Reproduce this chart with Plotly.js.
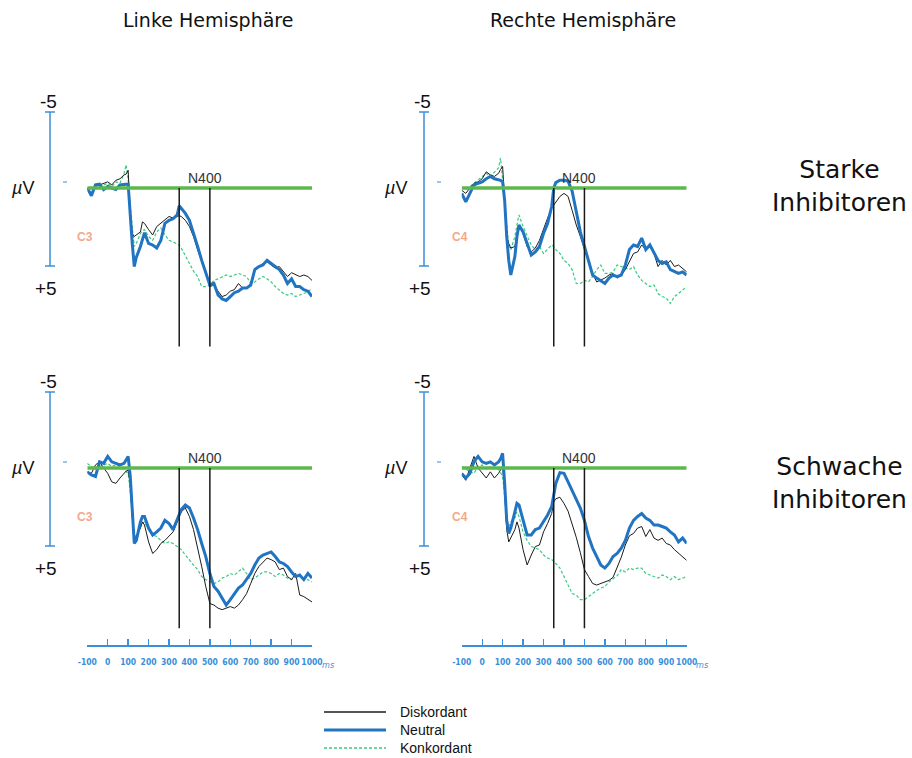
<!DOCTYPE html>
<html><head><meta charset="utf-8">
<script src="https://cdn.plot.ly/plotly-3.0.1.min.js"></script>
<style>body{margin:0;background:#fff}#chart{width:912px;height:758px}</style>
</head><body><div id="chart"></div>
<script>
// time points (ms)
const T = [-100,-80,-60,-40,-20,0,20,40,60,80,90,100,110,120,130,140,160,170,180,200,220,240,260,280,300,320,340,350,360,380,400,420,440,460,480,500,520,540,560,580,600,620,640,660,680,700,720,740,760,780,800,820,840,860,880,900,920,940,960,980,1000];

// Starke Inhibitoren, C3 (links)
const tlDis = [0,0.45,-0.1,-0.2,-0.3,-0.4,-0.2,-0.5,-0.6,-0.85,-0.9,-1.15, 1.5,2.95,3.15,3.05, 2.85,2.2,2.3, 2.7,3.05,2.5,2.3,2.1,1.85,1.95,1.85, 1.8, 1.85,2.1,2.5,3.15,4.0,4.7,5.5,6.4,6.3,6.7,7.05,6.95,6.7,6.6,6.2,6.5,6.5,6.2,5.3,5.1,4.9,4.8,5.0,5.2,5.1,5.4,5.75,5.5,5.65,5.75,5.65,5.75,6.0];
const tlNeu = [0,0.5,-0.2,-0.25,0.1,-0.1,0,0.1,-0.2,-0.25,-0.25,-0.25, 2.0,3.6,5.1,4.5, 3.8,3.3,2.9, 3.6,3.7,3.9,3.4,2.3,2.1,2.0,1.75, 1.15, 1.3,1.65,2.1,2.9,3.8,4.7,5.5,6.3,6.2,6.95,7.2,7.3,7.05,6.8,6.7,6.5,6.5,6.3,5.3,5.1,5.0,4.7,4.9,5.1,5.3,5.65,6.2,5.9,6.4,6.4,6.6,6.7,7.05];
const tlKon = [0,0.25,0,-0.1,-0.2,-0.3,-0.1,-0.4,-0.3,-0.95,-1.5,-0.5, 1.2,2.7,3.8,3.6, 2.95,2.8,2.7, 3.15,3.4,2.85,2.6,3.05,3.4,3.5,3.6, 3.7, 3.9,4.45,4.9,5.4,5.75,6.4,6.4,6.3,6.0,5.9,5.75,5.65,5.75,5.65,5.55,5.65,5.75,6.2,6.1,5.9,5.75,5.9,6.1,6.4,6.6,6.85,6.95,6.85,7.05,6.95,6.85,6.75,6.5];

// Starke Inhibitoren, C4 (rechts)
const trDis = [0.15,0.35,0,-0.3,-0.4,-0.6,-1.05,-0.85,-0.75,-0.95,-1.2,-1.4, 0.8,3.15,3.6,3.9, 3.8,2.95,2.4, 2.95,3.8,4.15,3.9,3.4,2.6,1.95,1.3, 1.1, 0.9,0.55,0.35,0.55,1.45,2.4,3.15,4.0,4.7,5.55,6.1,6.0,5.85,5.65,5.55,5.85,5.65,5.3,4.8,4.25,4.15,3.7,4.0,3.8,4.25,5.1,4.7,5.0,4.7,5.1,5.0,5.2,5.45];
const trNeu = [0.35,0.9,0.35,-0.2,-0.3,-0.4,-0.6,-0.75,-0.6,-0.55,-0.5,-0.4, 0.8,3.15,4.7,5.65, 4.45,3.15,2.4, 2.85,3.6,4.35,4.15,3.8,2.95,2.3,1.2, 0.0, -0.35,-0.5,-0.5,-0.45,0.2,1.65,2.85,3.8,4.7,5.65,5.85,6.0,6.2,5.85,5.65,5.75,5.65,5.0,4.0,3.7,3.8,3.25,4.0,3.7,4.25,4.7,4.9,4.8,5.3,5.45,5.55,5.45,5.65];
const trKon = [0,0.1,-0.1,-0.3,-0.5,-0.75,-0.95,-0.75,-1.05,-1.3,-1.95,-0.5, 1.0,2.7,3.8,4.0, 3.15,2.4,1.75, 2.5,3.15,3.7,4.0,3.8,4.25,4.0,3.7, 3.8, 4.0,4.25,4.7,4.9,5.3,6.2,6.2,6.0,6.1,5.75,5.3,5.0,5.55,5.55,5.45,5.0,5.1,5.2,5.3,5.1,5.65,6.0,6.2,6.4,6.3,6.85,7.05,7.15,7.5,7.05,6.85,6.6,6.4];

// Schwache Inhibitoren, C3 (links)
const blDis = [0.25,0.35,-0.2,-0.4,0,0.35,0.9,1.0,0.65,0.35,0.2,0.15, 1.0,3.15,4.7,4.45, 3.9,3.5,3.7, 4.8,5.55,5.3,4.9,4.7,4.45,4.15,3.5, 3.1, 2.85,2.6,3.15,4.0,5.1,6.4,7.7,8.8,8.9,9.1,9.2,9.1,9.0,9.1,8.9,8.55,8.15,7.5,6.85,6.4,6.1,5.85,5.95,6.1,6.6,6.5,7.05,7.25,6.85,8.25,8.35,8.55,8.7];
const blNeu = [0.25,0.45,0.55,-0.4,-0.3,-0.75,-0.4,-0.3,-0.2,-0.3,-0.5,-0.75, 0.5,2.95,4.9,4.7, 3.5,3.15,3.15, 3.9,4.35,4.15,3.9,3.4,3.6,4.0,3.4, 3.0, 2.7,2.4,2.6,3.25,4.0,4.9,5.75,6.85,7.7,8.0,8.45,8.9,8.55,8.15,7.8,7.6,7.25,6.85,6.3,5.85,5.65,5.55,5.45,5.75,6.1,6.2,6.4,6.75,7.05,6.95,7.25,6.85,7.15];
const blKon = [-0.3,-0.1,0.1,-0.1,-0.2,-0.3,-0.1,-0.2,-0.1,0.1,0.2,0.35, 1.5,3.15,4.55,4.35, 3.8,3.6,3.5, 4.0,4.35,4.45,4.7,4.9,4.8,4.9,5.1, 5.2, 5.3,5.65,6.0,6.3,6.6,7.05,7.25,7.4,7.5,7.4,7.15,7.05,6.85,6.95,6.75,6.5,6.85,7.25,7.15,6.95,6.75,6.75,6.85,7.05,6.85,6.95,7.15,7.25,6.95,7.05,7.25,7.25,7.4];

// Schwache Inhibitoren, C4 (rechts)
const brDis = [0.45,0.8,0,-0.75,0,0.35,0.65,0.25,0.65,0.35,0.1,-0.1, 1.5,4.0,4.8,4.55, 4.0,3.5,3.9, 5.3,6.3,5.65,5.1,5.0,4.15,3.6,2.95, 2.2, 2.0,1.9,2.3,2.8,3.6,4.5,5.5,6.6,7.05,7.5,7.6,7.5,7.4,7.3,7.1,6.5,5.8,5.0,4.4,4.25,3.9,3.8,4.45,4.0,4.55,4.7,4.55,4.9,5.0,5.3,5.55,5.75,6.0];
const brNeu = [0.35,0.65,0.35,-0.4,-0.75,-0.4,-0.3,-0.4,-0.2,-0.4,-0.6,-0.95, 1.0,3.4,4.25,3.9, 2.85,2.3,2.4, 3.4,4.35,4.35,4.0,3.9,3.5,3.05,2.5, 1.65, 1.0,0.3,0.35,0.9,1.45,2.1,2.6,3.4,4.45,5.2,5.75,6.3,6.5,6.2,5.75,5.55,5.2,4.7,3.9,3.4,3.15,2.95,3.25,3.4,3.7,3.7,3.8,3.9,4.15,4.35,4.8,4.55,4.9];
const brKon = [-0.1,0.1,0.25,0.35,-0.1,-0.2,0.1,-0.1,0,0.1,0.3,0.55, 1.8,3.25,3.8,3.5, 3.25,2.85,3.15, 4.15,4.7,5.1,5.2,5.3,5.65,5.85,5.95, 6.05, 6.2,6.5,7.05,7.7,8.15,8.25,8.55,8.55,8.35,8.1,7.95,7.8,7.7,7.4,7.2,7.0,6.6,6.75,6.5,6.6,6.5,6.5,6.85,6.95,7.05,7.15,6.95,7.05,7.25,7.05,7.25,7.15,7.05];

const xTicks = [-100,0,100,200,300,400,500,600,700,800,900,1000];
const seriesNames = ['Diskordant','Neutral','Konkordant'];
const windowMs = [350, 500];
const colTitles = ['Linke Hemisphäre','Rechte Hemisphäre'];
const rowTitles = ['Starke<br>Inhibitoren','Schwache<br>Inhibitoren'];
const electrodes = ['C3','C4'];

const W = 912, H = 758;
const px = x => x / W, py = y => 1 - y / H;

const BLUE = '#2174c2', BLACK = '#1b1b1b', KON = '#3cc983', BASE = '#5cb84c', AXIS = '#3a8fd8';

const panels = [
  {xa:'x',  ya:'y',  d:tlDis, n:tlNeu, k:tlKon, col:0, row:0},
  {xa:'x2', ya:'y2', d:trDis, n:trNeu, k:trKon, col:1, row:0},
  {xa:'x',  ya:'y3', d:blDis, n:blNeu, k:blKon, col:0, row:1},
  {xa:'x2', ya:'y4', d:brDis, n:brNeu, k:brKon, col:1, row:1}
];

const traces = [];
panels.forEach(p => {
  traces.push({x:T, y:p.k, xaxis:p.xa, yaxis:p.ya, type:'scatter', mode:'lines', name:seriesNames[2], showlegend:false,
    line:{color:KON, width:1.2, dash:'3px,2px'}});
  traces.push({x:T, y:p.d, xaxis:p.xa, yaxis:p.ya, type:'scatter', mode:'lines', name:seriesNames[0], showlegend:false,
    line:{color:BLACK, width:1}});
  traces.push({x:T, y:p.n, xaxis:p.xa, yaxis:p.ya, type:'scatter', mode:'lines', name:seriesNames[1], showlegend:false,
    line:{color:BLUE, width:3}});
});

const colBarX = [50, 424];
const colDashX = [65, 439];
const colLabelX = [48, 422];
const colMuX = [22, 395];
const colElX = [85, 460];
const rowZero = [188, 468];
const lineEnd = [10.3, 10.4];

const shapes = [];
const annotations = [];

panels.forEach(p => {
  const z = rowZero[p.row], bx = colBarX[p.col];
  shapes.push({type:'line', xref:p.xa, yref:p.ya, x0:-100, x1:1000, y0:0, y1:0, layer:'above',
    line:{color:BASE, width:3.5}});
  windowMs.forEach(t => shapes.push({type:'line', xref:p.xa, yref:p.ya, x0:t, x1:t, y0:0, y1:lineEnd[p.row], layer:'above',
    line:{color:'#1a1a1a', width:1.5}}));
  shapes.push({type:'line', xref:'paper', yref:'paper', x0:px(bx), x1:px(bx), y0:py(z-76), y1:py(z+78), line:{color:AXIS, width:1.5}});
  shapes.push({type:'line', xref:'paper', yref:'paper', x0:px(bx-5), x1:px(bx+5), y0:py(z-76), y1:py(z-76), line:{color:AXIS, width:1.5}});
  shapes.push({type:'line', xref:'paper', yref:'paper', x0:px(bx-5), x1:px(bx+5), y0:py(z+78), y1:py(z+78), line:{color:AXIS, width:1.5}});
  shapes.push({type:'line', xref:'paper', yref:'paper', x0:px(colDashX[p.col]-2), x1:px(colDashX[p.col]+2), y0:py(z-6), y1:py(z-6), line:{color:AXIS, width:1}});
  annotations.push({xref:'paper', yref:'paper', x:px(colLabelX[p.col]), y:py(z-87), text:'-5', showarrow:false,
    xanchor:'center', yanchor:'middle', font:{family:'Liberation Sans, Arial, sans-serif', size:19, color:'#111'}});
  annotations.push({xref:'paper', yref:'paper', x:px(colLabelX[p.col]-2), y:py(z+100), text:'+5', showarrow:false,
    xanchor:'center', yanchor:'middle', font:{family:'Liberation Sans, Arial, sans-serif', size:19, color:'#111'}});
  annotations.push({xref:'paper', yref:'paper', x:px(colMuX[p.col]), y:py(z), text:'<i>µ</i>V', showarrow:false,
    xanchor:'center', yanchor:'middle', font:{family:'Liberation Sans, Arial, sans-serif', size:18, color:'#111'}});
  annotations.push({xref:'paper', yref:'paper', x:px(colElX[p.col]), y:py(z+49), text:'<b>'+electrodes[p.col]+'</b>', showarrow:false,
    xanchor:'center', yanchor:'middle', font:{family:'Liberation Sans, Arial, sans-serif', size:12, color:'#f3a88c'}});
  annotations.push({xref:p.xa, yref:p.ya, x:475, y:0, text:'N400', showarrow:false,
    xanchor:'center', yanchor:'bottom', yshift:0, font:{family:'Liberation Sans, Arial, sans-serif', size:14, color:'#333'}});
});

[208, 583].forEach((x, i) => annotations.push({xref:'paper', yref:'paper', x:px(x), y:py(20), text:colTitles[i], showarrow:false,
  xanchor:'center', yanchor:'middle', font:{family:'DejaVu Sans, sans-serif', size:19, color:'#111'}}));
[186, 483].forEach((y, i) => annotations.push({xref:'paper', yref:'paper', x:px(839), y:py(y), text:rowTitles[i], showarrow:false,
  xanchor:'center', yanchor:'middle', align:'center', font:{family:'DejaVu Sans, sans-serif', size:25, color:'#111'}}));
[328, 702].forEach(x => annotations.push({xref:'paper', yref:'paper', x:px(x), y:py(665), text:'<i>ms</i>', showarrow:false,
  xanchor:'center', yanchor:'middle', font:{family:'DejaVu Sans Condensed, sans-serif', size:9, color:AXIS}}));

const legColors = [BLACK, BLUE, KON], legW = [1.5, 3, 1.5], legDash = ['solid','solid','3px,2px'];
[712, 730, 748].forEach((y, i) => {
  shapes.push({type:'line', xref:'paper', yref:'paper', x0:px(324), x1:px(386), y0:py(y), y1:py(y),
    line:{color:legColors[i], width:legW[i], dash:legDash[i]}});
  annotations.push({xref:'paper', yref:'paper', x:px(398), y:py(y), text:seriesNames[i], showarrow:false,
    xanchor:'left', yanchor:'middle', font:{family:'Liberation Sans, Arial, sans-serif', size:14, color:'#111'}});
});

const xaxisBase = {
  range:[-100,1000], showgrid:false, zeroline:false, showline:true, linecolor:AXIS, linewidth:1.5,
  ticks:'inside', ticklen:6, tickwidth:1.3, tickcolor:AXIS, tickmode:'array', tickvals:xTicks, ticktext:xTicks.map(String),
  tickangle:0,
  tickfont:{family:'DejaVu Sans Condensed, Liberation Sans Narrow, sans-serif', size:8.5, color:AXIS, weight:'bold'},
  ticklabelstandoff:8, fixedrange:true
};
const yBase = {showgrid:false, zeroline:false, showline:false, showticklabels:false, ticks:'', visible:false, fixedrange:true};

const layout = {
  width:W, height:H, margin:{l:0, r:0, t:0, b:0}, paper_bgcolor:'#fff', plot_bgcolor:'rgba(0,0,0,0)', showlegend:false,
  xaxis: Object.assign({}, xaxisBase, {domain:[px(87.3), px(312)], anchor:'y3'}),
  xaxis2: Object.assign({}, xaxisBase, {domain:[px(461.7), px(686.7)], anchor:'y4'}),
  yaxis: Object.assign({}, yBase, {domain:[py(349.7), py(95.6)], range:[10.5,-6], anchor:'x'}),
  yaxis2: Object.assign({}, yBase, {domain:[py(349.7), py(95.6)], range:[10.5,-6], anchor:'x2'}),
  yaxis3: Object.assign({}, yBase, {domain:[py(645), py(375.6)], range:[11.494,-6], anchor:'x'}),
  yaxis4: Object.assign({}, yBase, {domain:[py(645), py(375.6)], range:[11.494,-6], anchor:'x2'}),
  shapes: shapes, annotations: annotations
};

Plotly.newPlot('chart', traces, layout, {displayModeBar:false, staticPlot:true});
</script></body></html>
